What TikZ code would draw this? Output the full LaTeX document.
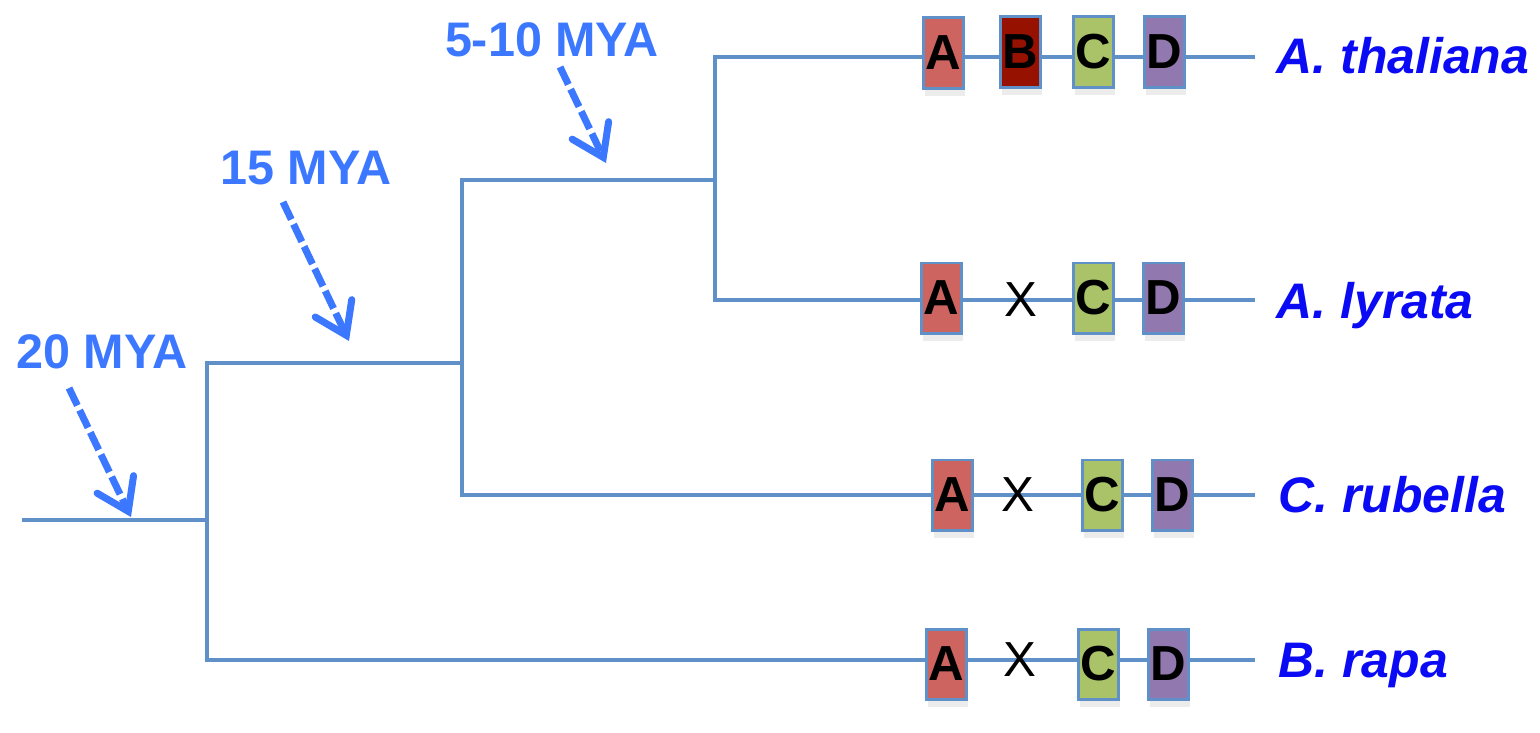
\documentclass[tikz,border=0pt]{standalone}
\usepackage{fontspec}
\setmainfont{Liberation Sans}
\usetikzlibrary{arrows.meta,shadows}

\definecolor{branchblue}{RGB}{95,145,200}
\definecolor{myablue}{RGB}{60,120,255}
\definecolor{spblue}{RGB}{10,10,245}
\definecolor{geneA}{RGB}{205,100,95}
\definecolor{geneB}{RGB}{150,17,0}
\definecolor{geneC}{RGB}{170,195,105}
\definecolor{geneD}{RGB}{145,120,175}

\tikzset{
	branch/.style={draw=branchblue, line width=1.15pt, line join=miter},
	gene/.style={draw=branchblue, line width=0.85pt, minimum width=0.4cm, minimum height=0.7cm, inner sep=0pt,
		font=\bfseries\fontsize{14}{16}\selectfont,
		drop shadow={shadow xshift=0.6pt, shadow yshift=-2.2pt, opacity=0.15}},
	lost/.style={inner sep=0pt, font=\fontsize{14}{16}\selectfont},
	species/.style={anchor=base west, inner sep=0pt, text=spblue, font=\bfseries\itshape\fontsize{14.2}{16}\selectfont},
	mya/.style={inner sep=0pt, text=myablue, font=\bfseries\fontsize{13.8}{16}\selectfont},
	myaarrow/.style={draw=myablue, line width=2pt, dash pattern=on 5.5pt off 1.5pt,
		-{Straight Barb[length=8.5pt, width=11.5pt, line cap=round]}}
}

\begin{document}
\begin{tikzpicture}[x=0.01cm, y=-0.01cm]
			%%%%% START %%%%%
			\useasboundingbox (0, 0) rectangle (1540, 732);
			
			% tree
			\coordinate (root) at (22, 520);
			\coordinate (n20) at (207, 520);
			\coordinate (n15) at (462, 363);
			\coordinate (n5) at (715, 180);
			\coordinate (eThal) at (1255, 57);
			\coordinate (eLyr) at (1255, 300);
			\coordinate (eRub) at (1255, 495);
			\coordinate (eRap) at (1255, 660);
			
			\draw[branch] (root) -- (n20);
			\draw[branch] (eRap) -| (n20) |- (n15);
			\draw[branch] (eRub) -| (n15) |- (n5);
			\draw[branch] (eLyr) -| (n5) |- (eThal);
			
			% genes
			\node[gene, fill=geneA] (thalA) at (943, 53) {A};
			\node[gene, fill=geneB] (thalB) at (1020, 52) {B};
			\node[gene, fill=geneC] (thalC) at (1093, 52) {C};
			\node[gene, fill=geneD] (thalD) at (1164, 52) {D};
			
			\node[gene, fill=geneA] (lyrA) at (941, 298) {A};
			\node[lost] (lyrX) at (1021, 300) {X};
			\node[gene, fill=geneC] (lyrC) at (1093, 298) {C};
			\node[gene, fill=geneD] (lyrD) at (1163, 298) {D};
			
			\node[gene, fill=geneA] (rubA) at (952, 495) {A};
			\node[lost] (rubX) at (1018, 495) {X};
			\node[gene, fill=geneC] (rubC) at (1102, 495) {C};
			\node[gene, fill=geneD] (rubD) at (1172, 495) {D};
			
			\node[gene, fill=geneA] (rapA) at (946, 664) {A};
			\node[lost] (rapX) at (1020, 660) {X};
			\node[gene, fill=geneC] (rapC) at (1098, 664) {C};
			\node[gene, fill=geneD] (rapD) at (1168, 664) {D};
			
			% species
			\node[species] (thal) at (1276, 73) {A. thaliana};
			\node[species] (lyr) at (1276, 318) {A. lyrata};
			\node[species] (rub) at (1278, 512) {C. rubella};
			\node[species] (rap) at (1278, 677) {B. rapa};
			
			% divergence times
			\node[mya] (mya20) at (102, 352) {20 MYA};
			\node[mya] (mya15) at (306, 168) {15 MYA};
			\node[mya] (mya5) at (552, 40) {5-10 MYA};
			
			\coordinate (s20) at (69, 388);
			\coordinate (t20) at (131, 517);
			\coordinate (s15) at (283, 202);
			\coordinate (t15) at (349, 341);
			\coordinate (s5) at (560, 67);
			\coordinate (t5) at (606, 163);
			
			\draw[myaarrow] (s20) -- (t20);
			\draw[myaarrow] (s15) -- (t15);
			\draw[myaarrow] (s5) -- (t5);
			
			%%%%% END %%%%%
\end{tikzpicture}
\end{document}
